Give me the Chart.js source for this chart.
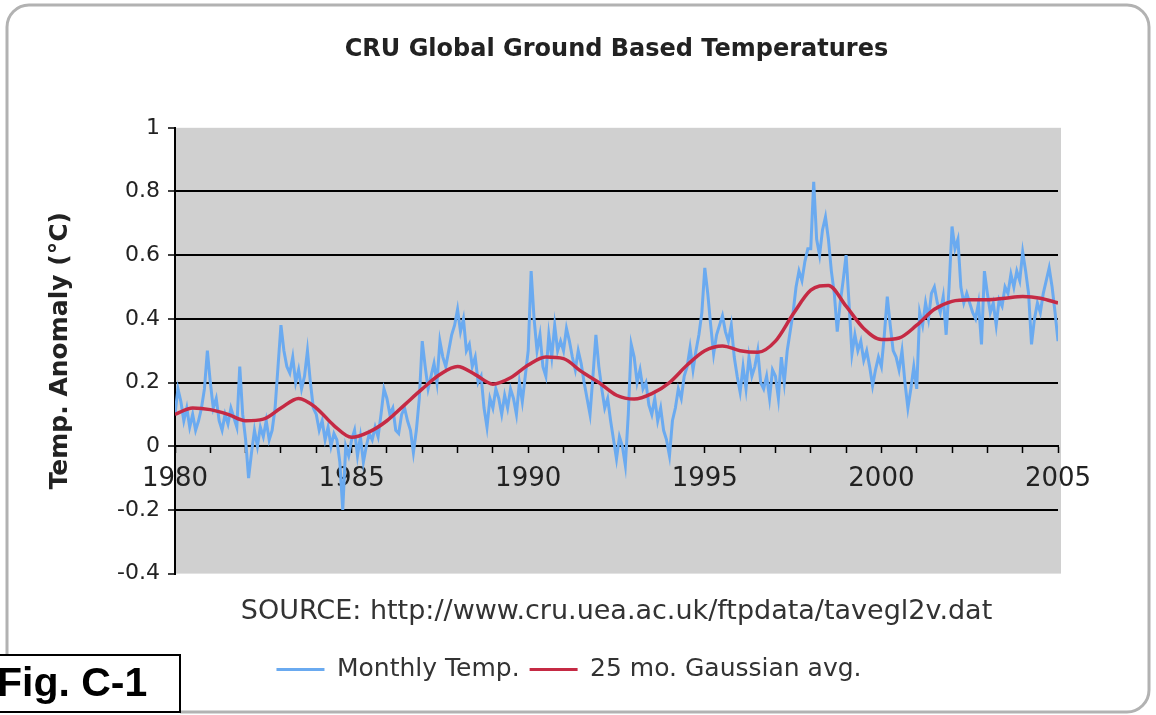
<!DOCTYPE html>
<html>
<head>
<meta charset="utf-8">
<title>CRU Global Ground Based Temperatures</title>
<script src="https://cdn.jsdelivr.net/npm/chart.js@4.4.1/dist/chart.umd.min.js"></script>
<style>
  html, body { margin: 0; padding: 0; background: #fff; }
  #wrap { width: 1156px; height: 715px; }
</style>
</head>
<body>
<div id="wrap"><canvas id="tempChart" width="1156" height="715"></canvas></div>
<script>
// Monthly anomalies, Jan 1980 .. Jan 2005
const firstYear = 1980;
const monthlyTemp = [
    0.10, 0.18, 0.14, 0.08, 0.12, 0.06, 0.10, 0.05, 0.08, 0.12, 0.18, 0.30,   // 1980
    0.20, 0.12, 0.15, 0.08, 0.05, 0.10, 0.07, 0.12, 0.09, 0.06, 0.25, 0.10,   // 1981
    0.02, -0.10, -0.02, 0.05, 0.00, 0.06, 0.03, 0.08, 0.02, 0.05, 0.12, 0.25, // 1982
    0.38, 0.30, 0.25, 0.23, 0.28, 0.20, 0.24, 0.18, 0.22, 0.30, 0.20, 0.12,   // 1983
    0.10, 0.05, 0.08, 0.02, 0.06, 0.00, 0.04, 0.02, -0.05, -0.20, 0.00, -0.03, // 1984
    0.02, 0.05, -0.03, 0.03, -0.05, 0.00, 0.04, 0.02, 0.06, 0.03, 0.10, 0.18, // 1985
    0.15, 0.10, 0.12, 0.05, 0.04, 0.10, 0.12, 0.08, 0.05, -0.02, 0.05, 0.15,  // 1986
    0.33, 0.25, 0.18, 0.22, 0.26, 0.20, 0.33, 0.28, 0.25, 0.30, 0.35, 0.38,   // 1987
    0.43, 0.36, 0.40, 0.30, 0.32, 0.25, 0.28, 0.20, 0.22, 0.12, 0.06, 0.15,   // 1988
    0.12, 0.18, 0.15, 0.10, 0.16, 0.12, 0.18, 0.15, 0.10, 0.20, 0.14, 0.22,   // 1989
    0.30, 0.55, 0.40, 0.30, 0.35, 0.25, 0.22, 0.35, 0.28, 0.38, 0.30, 0.33,   // 1990
    0.30, 0.37, 0.33, 0.28, 0.24, 0.30, 0.26, 0.20, 0.15, 0.10, 0.22, 0.35,   // 1991
    0.25, 0.18, 0.12, 0.15, 0.08, 0.02, -0.04, 0.03, 0.00, -0.06, 0.10, 0.32, // 1992
    0.28, 0.20, 0.24, 0.18, 0.20, 0.13, 0.10, 0.15, 0.08, 0.12, 0.05, 0.02,   // 1993
    -0.03, 0.08, 0.12, 0.18, 0.15, 0.22, 0.25, 0.31, 0.24, 0.30, 0.35, 0.42,  // 1994
    0.56, 0.48, 0.38, 0.29, 0.35, 0.38, 0.41, 0.36, 0.33, 0.38, 0.28, 0.22,   // 1995
    0.17, 0.25, 0.18, 0.28, 0.22, 0.25, 0.30, 0.20, 0.18, 0.22, 0.15, 0.24,   // 1996
    0.22, 0.15, 0.28, 0.20, 0.30, 0.36, 0.42, 0.50, 0.55, 0.52, 0.58, 0.62,   // 1997
    0.62, 0.83, 0.65, 0.60, 0.68, 0.72, 0.65, 0.55, 0.48, 0.36, 0.45, 0.52,   // 1998
    0.60, 0.45, 0.29, 0.35, 0.30, 0.33, 0.27, 0.30, 0.25, 0.19, 0.24, 0.28,   // 1999
    0.25, 0.35, 0.47, 0.38, 0.30, 0.28, 0.24, 0.30, 0.20, 0.12, 0.18, 0.25,   // 2000
    0.18, 0.42, 0.38, 0.45, 0.40, 0.48, 0.50, 0.45, 0.42, 0.47, 0.35, 0.50,   // 2001
    0.69, 0.62, 0.65, 0.50, 0.45, 0.48, 0.45, 0.42, 0.40, 0.45, 0.32, 0.55,   // 2002
    0.48, 0.42, 0.45, 0.38, 0.46, 0.44, 0.50, 0.48, 0.54, 0.50, 0.55, 0.52,   // 2003
    0.61, 0.55, 0.48, 0.32, 0.40, 0.45, 0.42, 0.48, 0.52, 0.56, 0.50, 0.42,   // 2004
    0.33                                                                      // 2005
];

// 25 month Gaussian average, read every half year
const gaussYears = [
    1980, 1980.5, 1981, 1981.5, 1982, 1982.5, 1983, 1983.5, 1984, 1984.5,
    1985, 1985.5, 1986, 1986.5, 1987, 1987.5, 1988, 1988.5, 1989, 1989.5,
    1990, 1990.5, 1991, 1991.5, 1992, 1992.5, 1993, 1993.5, 1994, 1994.5,
    1995, 1995.5, 1996, 1996.5, 1997, 1997.5, 1998, 1998.5, 1999, 1999.5,
    2000, 2000.5, 2001, 2001.5, 2002, 2002.5, 2003, 2003.5, 2004, 2004.5, 2005
];
const gaussAvg = [
    0.10, 0.12, 0.115, 0.10, 0.08, 0.085, 0.12, 0.15, 0.12, 0.065,
    0.028, 0.045, 0.08, 0.13, 0.18, 0.225, 0.25, 0.225, 0.195, 0.215,
    0.255, 0.28, 0.275, 0.235, 0.20, 0.16, 0.148, 0.165, 0.20, 0.255,
    0.30, 0.315, 0.30, 0.295, 0.33, 0.415, 0.49, 0.505, 0.44, 0.37,
    0.335, 0.34, 0.38, 0.43, 0.455, 0.46, 0.46, 0.465, 0.47, 0.465, 0.45
];

const yTicks = [-0.4, -0.2, 0, 0.2, 0.4, 0.6, 0.8, 1];
const labelYears = [1980, 1985, 1990, 1995, 2000, 2005];

const monthlyPoints = monthlyTemp.map((v, i) => ({ x: firstYear + i / 12, y: v }));
const gaussPoints = gaussYears.map((yr, i) => ({ x: yr, y: gaussAvg[i] }));

// page frame, grey plot area and the "Fig. C-1" tag
const framePlugin = {
    id: 'framePlugin',
    beforeDraw(chart) {
        const { ctx, chartArea } = chart;
        ctx.save();
        ctx.fillStyle = '#fff';
        ctx.fillRect(0, 0, chart.width, chart.height);
        ctx.strokeStyle = '#b2b2b2';
        ctx.lineWidth = 3;
        ctx.beginPath();
        ctx.roundRect(7, 5, 1142, 707, 22);
        ctx.stroke();
        ctx.fillStyle = '#d0d0d0';
        ctx.fillRect(chartArea.left, chartArea.top, chartArea.right - chartArea.left + 3, chartArea.bottom - chartArea.top);
        ctx.restore();
    },
    afterDraw(chart) {
        const ctx = chart.ctx;
        ctx.save();
        ctx.fillStyle = '#fff';
        ctx.fillRect(-2, 655, 182, 60);
        ctx.strokeStyle = '#000';
        ctx.lineWidth = 2;
        ctx.strokeRect(-2, 655, 182, 57);
        ctx.fillStyle = '#000';
        ctx.font = "bold 41px 'Liberation Sans', Arial, sans-serif";
        ctx.textBaseline = 'middle';
        ctx.fillText('Fig. C-1', -3, 685);
        ctx.restore();
    }
};

Chart.defaults.font.family = "'DejaVu Sans', sans-serif";
Chart.defaults.color = '#222';

const ctx = document.getElementById('tempChart').getContext('2d');
const tempChart = new Chart(ctx, {
    type: 'line',
    data: {
        datasets: [
            {
                label: '25 mo. Gaussian avg.',
                data: gaussPoints,
                borderColor: '#c52a44',
                backgroundColor: '#c52a44',
                borderWidth: 3.5,
                pointRadius: 0,
                cubicInterpolationMode: 'monotone',
                fill: false
            },
            {
                label: 'Monthly Temp.',
                data: monthlyPoints,
                borderColor: '#6aaaf0',
                backgroundColor: '#6aaaf0',
                borderWidth: 3,
                pointRadius: 0,
                tension: 0,
                fill: false
            }
        ]
    },
    options: {
        responsive: false,
        animation: false,
        layout: { padding: { left: 0, right: 18, top: 0, bottom: 23 } },
        plugins: {
            title: {
                display: true,
                text: 'CRU Global Ground Based Temperatures',
                fullSize: false,
                color: '#222',
                font: { size: 24, weight: 'bold' },
                padding: { top: 35, bottom: 64 }
            },
            subtitle: {
                display: true,
                position: 'bottom',
                fullSize: false,
                text: 'SOURCE: http://www.cru.uea.ac.uk/ftpdata/tavegl2v.dat',
                color: '#333',
                font: { size: 27 },
                padding: { top: 22, bottom: 19 }
            },
            legend: {
                position: 'bottom',
                weight: 2000,
                reverse: true,
                labels: {
                    color: '#333',
                    font: { size: 25 },
                    boxWidth: 48,
                    boxHeight: 3,
                    padding: 10,
                    generateLabels: chart =>
                        Chart.defaults.plugins.legend.labels.generateLabels(chart)
                            .map(item => Object.assign(item, { lineWidth: 0 }))
                }
            },
            tooltip: { enabled: false }
        },
        scales: {
            x: {
                type: 'linear',
                position: { y: 0 },
                min: 1980,
                max: 2005,
                grid: {
                    drawOnChartArea: false,
                    drawTicks: true,
                    tickLength: 6,
                    tickColor: '#000',
                    tickWidth: 1.5
                },
                border: { color: '#000', width: 2 },
                ticks: {
                    stepSize: 1,
                    autoSkip: false,
                    maxRotation: 0,
                    color: '#222',
                    font: { size: 26 },
                    padding: 11,
                    callback: v => labelYears.includes(v) ? String(v) : ''
                }
            },
            y: {
                min: -0.4,
                max: 1,
                afterFit: scale => { scale.width = 175; },
                afterBuildTicks: scale => { scale.ticks = yTicks.map(v => ({ value: v })); },
                grid: {
                    color: c => (c.tick && (Math.abs(c.tick.value - 1) < 1e-6 || Math.abs(c.tick.value + 0.4) < 1e-6)) ? 'rgba(0,0,0,0)' : '#000',
                    lineWidth: 2,
                    tickLength: 7,
                    tickColor: '#000',
                    tickWidth: 1.5
                },
                border: { color: '#000', width: 2 },
                ticks: {
                    color: '#222',
                    font: { size: 22 },
                    padding: 8,
                    callback: v => String(Math.round(v * 10) / 10)
                },
                title: {
                    display: true,
                    text: 'Temp. Anomaly (°C)',
                    color: '#222',
                    font: { size: 25, weight: 'bold' },
                    padding: { top: 45, bottom: 0 }
                }
            },
            // empty right-hand strip, keeps the plot off the right edge
            yRight: {
                position: 'right',
                min: -0.4,
                max: 1,
                afterFit: scale => { scale.width = 80; },
                grid: { drawOnChartArea: false, drawTicks: false },
                border: { display: false },
                ticks: { display: false }
            }
        }
    },
    plugins: [framePlugin]
});
</script>
</body>
</html>
